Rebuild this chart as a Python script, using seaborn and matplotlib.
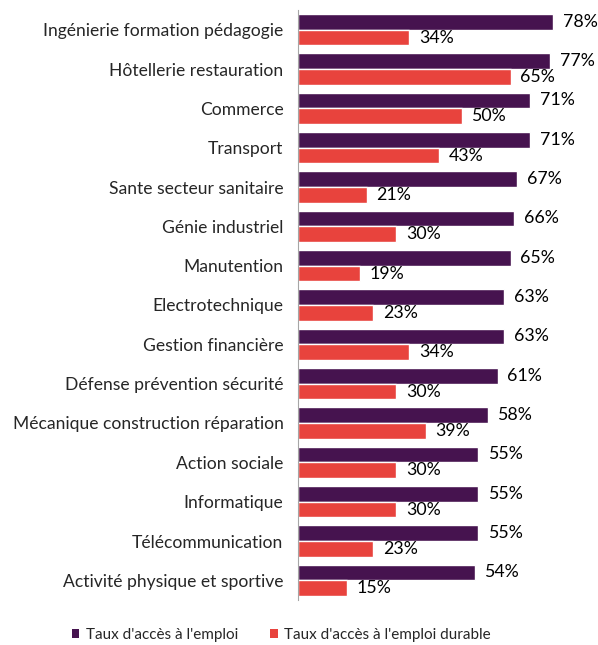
import matplotlib
matplotlib.use("Agg")
import matplotlib.pyplot as plt
import seaborn as sns
import pandas as pd
import numpy as np

categories = ["Ingénierie formation pédagogie", "Hôtellerie restauration", "Commerce", "Transport",
              "Sante secteur sanitaire", "Génie industriel", "Manutention", "Electrotechnique",
              "Gestion financière", "Défense prévention sécurité", "Mécanique construction réparation",
              "Action sociale", "Informatique", "Télécommunication", "Activité physique et sportive"]
acces_emploi = [78, 77, 71, 71, 67, 66, 65, 63, 63, 61, 58, 55, 55, 55, 54]
acces_durable = [34, 65, 50, 43, 21, 30, 19, 23, 34, 30, 39, 30, 30, 23, 15]
series = ["Taux d'accès à l'emploi", "Taux d'accès à l'emploi durable"]
colors = ["#46134F", "#E8433D"]

df = pd.DataFrame({
    "cat": categories * 2,
    "val": acces_emploi + acces_durable,
    "serie": [series[0]] * len(categories) + [series[1]] * len(categories),
})

sns.set_style("white")
plt.rcParams['font.family'] = ['Lato', 'DejaVu Sans']

fig = plt.figure(figsize=(5.98, 6.45), dpi=100)
ax = fig.add_axes([298/598, 1 - 600/645, 299/598, 590/645])
sns.barplot(data=df, y="cat", x="val", hue="serie", palette=colors, orient="h",
            width=0.8, ax=ax, order=categories, hue_order=series, legend=False, saturation=1)

for cont in ax.containers:
    ax.bar_label(cont, labels=[f"{v:.0f}%" for v in cont.datavalues], padding=7,
                 fontsize=12.8, color="#000000")

ax.set_xlim(0, 91.4)
ax.set_ylim(len(categories) - 0.5, -0.5)
ax.set_xlabel("")
ax.set_ylabel("")
ax.set_xticks([])
for s in ["top", "right", "bottom"]:
    ax.spines[s].set_visible(False)
ax.spines["left"].set_color("#A6A6A6")
ax.spines["left"].set_linewidth(0.8)
ax.tick_params(axis="y", which="major", length=0, pad=10.5, labelsize=12.6)
ax.set_yticks(np.arange(-0.5, len(categories), 1), minor=True)
ax.tick_params(axis="y", which="minor", length=6, color="#A6A6A6", width=0.8)

from matplotlib.patches import Patch
handles = [Patch(facecolor=c, edgecolor="none") for c in colors]
fig.legend(handles, series, loc="lower center", bbox_to_anchor=(0.47, -0.016), ncol=2,
           frameon=False, fontsize=11, handlelength=0.5, handleheight=0.5,
           columnspacing=2.1, handletextpad=0.4)

fig.savefig("out.png", dpi=100)
